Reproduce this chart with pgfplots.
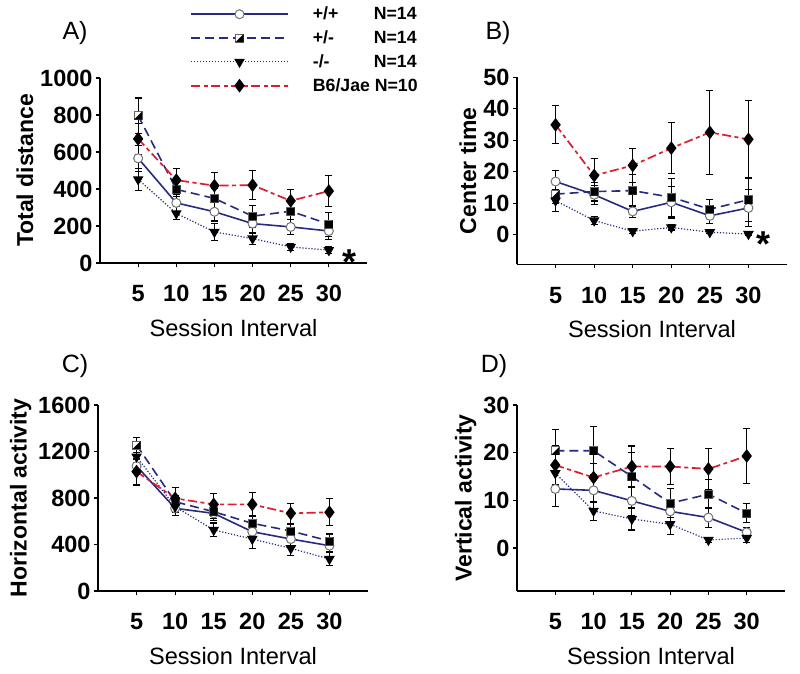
\documentclass[border=0pt]{standalone}
\usepackage{fontspec}
\setmainfont{Liberation Sans}
\usepackage{pgfplots}
\pgfplotsset{compat=1.18}
\usetikzlibrary{plotmarks}
\definecolor{navy}{RGB}{38,42,128}
\definecolor{myred}{RGB}{222,28,48}
\pgfdeclareplotmark{halfsq}{%
  \pgfpathrectangle{\pgfqpoint{-\pgfplotmarksize}{-\pgfplotmarksize}}{\pgfqpoint{2\pgfplotmarksize}{2\pgfplotmarksize}}%
  \pgfusepathqfillstroke
  \pgfpathmoveto{\pgfqpoint{\pgfplotmarksize}{\pgfplotmarksize}}%
  \pgfpathlineto{\pgfqpoint{\pgfplotmarksize}{-\pgfplotmarksize}}%
  \pgfpathlineto{\pgfqpoint{-\pgfplotmarksize}{-\pgfplotmarksize}}%
  \pgfpathclose
  \pgfsetfillcolor{black}%
  \pgfusepathqfill
}
\pgfplotsset{
  panel/.style={
    scale only axis, anchor=south west,
    xmin=0, xmax=35, xtick={5,10,...,30},
    axis x line*=bottom, axis y line*=left,
    axis line style={line width=1.5pt, -},
    tick align=outside, major tick length=4pt,
    tick style={black, line width=1.2pt},
    /pgf/number format/assume math mode=true,
    /pgf/number format/set thousands separator={},
    ticklabel style={font=\fontsize{23.5}{26}\selectfont\bfseries},
    xticklabel style={yshift=-15pt},
    ylabel style={font=\fontsize{23}{26}\selectfont\bfseries},
    xlabel style={font=\fontsize{23.6}{26}\selectfont, yshift=-10pt},
    xlabel={Session Interval},
    clip=false,
  },
  eb/.style={/pgfplots/error bars/y dir=both, /pgfplots/error bars/y explicit,
    /pgfplots/error bars/error bar style={black, line width=1.1pt, solid},
    /pgfplots/error bars/error mark options={rotate=90, black, mark size=3.5pt, line width=1.1pt, solid}},
  s1/.style={navy, line width=1.6pt, mark=*, mark size=4.5pt, mark options={solid, fill=white, draw=black!55, line width=1pt}},
  s2/.style={navy, line width=1.6pt, dash pattern=on 9pt off 5pt, mark=halfsq, mark size=4pt, mark options={solid, fill=white, draw=black!60, line width=0.8pt}},
  s3/.style={navy, line width=1.2pt, dash pattern=on 1.2pt off 1.8pt, mark=triangle*, mark size=5pt, mark options={solid, rotate=180, fill=black, draw=black}},
  s4/.style={draw=myred, color=myred, line width=1.7pt, dash pattern=on 9pt off 3.5pt on 4pt off 3.5pt, mark=diamond*, mark size=5.5pt, mark options={solid, fill=black, draw=black}},
}
\begin{document}
\begin{tikzpicture}
\useasboundingbox (0,0) rectangle (800pt,673pt);
% Panel A
\begin{axis}[panel, at={(100pt,410pt)}, width=267pt, height=185pt,
  ymin=0, ymax=1000, ytick={0,200,...,1000}, ylabel={Total distance},
  legend style={at={(axis description cs:0.337,1.39)}, anchor=north west, draw=none, fill=none, inner sep=0pt,
    font=\fontsize{17.7}{20}\selectfont\bfseries, row sep=7.5pt, nodes={inner sep=1pt},
    /tikz/every odd column/.append style={column sep=23pt}},
  legend cell align=left,
  legend image code/.code={\draw[mark repeat=2,mark phase=2,#1] plot coordinates {(0pt,0pt) (48.5pt,0pt) (97pt,0pt)};}]
\addplot[s1, eb] coordinates {(5,566) +- (0,70) (10,325) +- (0,45) (15,277) +- (0,50) (20,213) +- (0,50) (25,195) +- (0,40) (30,173) +- (0,45)};
\addlegendentry{\makebox[61pt][l]{+/+}N=14}
\addplot[s2, eb] coordinates {(5,797) +- (0,95) (10,398) +- (0,40) (15,349) +- (0,55) (20,253) +- (0,60) (25,280) +- (0,45) (30,210) +- (0,65)};
\addlegendentry{\makebox[61pt][l]{+/-}N=14}
\addplot[s3, eb] coordinates {(5,452) +- (0,60) (10,268) +- (0,35) (15,168) +- (0,45) (20,132) +- (0,30) (25,87) +- (0,20) (30,69) +- (0,18)};
\addlegendentry{\makebox[61pt][l]{-/-}N=14}
\addplot[s4, eb] coordinates {(5,671) +- (0,85) (10,448) +- (0,65) (15,418) +- (0,70) (20,421) +- (0,78) (25,336) +- (0,60) (30,389) +- (0,86)};
\addlegendentry{B6/Jae N=10}
\end{axis}
% Panel B
\begin{axis}[panel, at={(517pt,408.7pt)}, width=270pt, height=187pt,
  ymin=-9.4, ymax=50, ytick={0,10,...,50}, ylabel={Center time}]
\addplot[s1, eb] coordinates {(5,16.9) +- (0,3.5) (10,12.7) +- (0,3) (15,7.4) +- (0,2) (20,10.3) +- (0,5) (25,6.0) +- (0,2.5) (30,8.5) +- (0,6)};
\addplot[s2, eb] coordinates {(5,12.9) +- (0,3) (10,13.7) +- (0,3) (15,14.0) +- (0,5) (20,11.9) +- (0,6) (25,8.1) +- (0,3) (30,11.1) +- (0,7)};
\addplot[s3, eb] coordinates {(5,10.8) +- (0,3.5) (10,4.5) +- (0,1.2) (15,1.1) +- (0,0.6) (20,2.3) +- (0,0.8) (25,0.8) +- (0,0.5) (30,0.2) +- (0,0.3)};
\addplot[s4, eb] coordinates {(5,34.9) +- (0,6) (10,18.8) +- (0,5.3) (15,22.0) +- (0,5.3) (20,27.5) +- (0,8) (25,32.5) +- (0,13.3) (30,30.3) +- (0,12.4)};
\end{axis}
% Panel C
\begin{axis}[panel, at={(98pt,82pt)}, width=270pt, height=186pt,
  ymin=0, ymax=1600, ytick={0,400,...,1600}, ylabel={Horizontal activity}]
\addplot[s1, eb] coordinates {(5,1075) +- (0,60) (10,711) +- (0,60) (15,668) +- (0,60) (20,510) +- (0,60) (25,447) +- (0,55) (30,390) +- (0,50)};
\addplot[s2, eb] coordinates {(5,1256) +- (0,65) (10,768) +- (0,55) (15,682) +- (0,60) (20,582) +- (0,60) (25,516) +- (0,55) (30,430) +- (0,60)};
\addplot[s3, eb] coordinates {(5,1156) +- (0,60) (10,725) +- (0,50) (15,525) +- (0,60) (20,447) +- (0,80) (25,367) +- (0,65) (30,275) +- (0,55)};
\addplot[s4, eb] coordinates {(5,1027) +- (0,115) (10,797) +- (0,90) (15,745) +- (0,90) (20,745) +- (0,100) (25,668) +- (0,85) (30,677) +- (0,115)};
\end{axis}
% Panel D
\begin{axis}[panel, at={(517pt,82pt)}, width=268pt, height=186pt,
  ymin=-9, ymax=30, ytick={0,10,20,30}, ylabel={Vertical activity}]
\addplot[s1, eb] coordinates {(5,12.4) +- (0,3.7) (10,12.1) +- (0,2.5) (15,9.9) +- (0,3) (20,7.7) +- (0,2.5) (25,6.4) +- (0,2) (30,3.3) +- (0,1)};
\addplot[s2, eb] coordinates {(5,20.4) +- (0,4.5) (10,20.4) +- (0,5) (15,15.0) +- (0,5) (20,9.4) +- (0,3) (25,11.3) +- (0,3) (30,7.3) +- (0,2)};
\addplot[s3, eb] coordinates {(5,15.7) +- (0,4) (10,7.8) +- (0,2) (15,6.1) +- (0,2.3) (20,5.0) +- (0,2.1) (25,1.7) +- (0,0.5) (30,2.1) +- (0,1)};
\addplot[s4, eb] coordinates {(5,17.4) +- (0,4) (10,14.8) +- (0,3) (15,17.1) +- (0,4.3) (20,17.1) +- (0,3.8) (25,16.6) +- (0,4.3) (30,19.3) +- (0,5.8)};
\end{axis}
% panel letters and significance stars
\node[font=\fontsize{25}{28}\selectfont] at (75pt,640pt) {A)};
\node[font=\fontsize{25}{28}\selectfont] at (498pt,640pt) {B)};
\node[font=\fontsize{25}{28}\selectfont] at (75pt,307pt) {C)};
\node[font=\fontsize{25}{28}\selectfont] at (494pt,307pt) {D)};
\node[font=\fontsize{36}{36}\selectfont\bfseries] at (350pt,411pt) {*};
\node[font=\fontsize{36}{36}\selectfont\bfseries] at (763pt,429pt) {*};
\end{tikzpicture}
\end{document}
